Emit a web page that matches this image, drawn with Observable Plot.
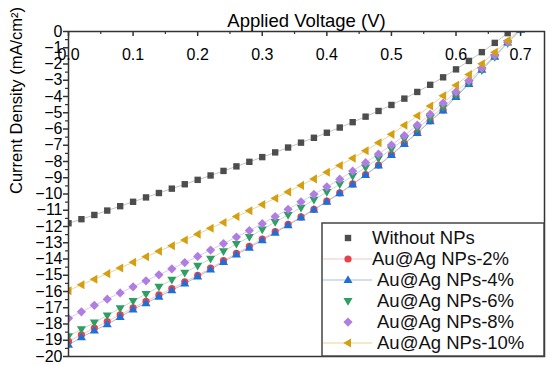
<!DOCTYPE html>
<html><head><meta charset="utf-8">
<script src="https://cdn.jsdelivr.net/npm/d3@7"></script>
<script src="https://cdn.jsdelivr.net/npm/@observablehq/plot@0.6"></script>
<style>
body{margin:0;background:#fff;font-family:"Liberation Sans",Arial,sans-serif;}
#wrap{position:relative;width:550px;height:365px;overflow:hidden;}
#legend{position:absolute;left:0;top:0;}
</style></head><body><div id="wrap"></div>
<script>
// ---- data ----
const voltage = [0.00,0.02,0.04,0.06,0.08,0.10,0.12,0.14,0.16,0.18,0.20,0.22,0.24,0.26,0.28,0.30,0.32,0.34,0.36,0.38,0.40,0.42,0.44,0.46,0.48,0.50,0.52,0.54,0.56,0.58,0.60,0.62,0.64,0.66,0.68,0.70];
const withoutNPs = [-11.80,-11.55,-11.29,-11.02,-10.75,-10.48,-10.21,-9.94,-9.67,-9.40,-9.13,-8.86,-8.58,-8.30,-8.02,-7.73,-7.44,-7.14,-6.84,-6.54,-6.23,-5.91,-5.58,-5.24,-4.89,-4.52,-4.13,-3.72,-3.28,-2.82,-2.33,-1.81,-1.27,-0.70,-0.10,0.50];
const np2 = [-19.07,-18.66,-18.25,-17.85,-17.43,-17.00,-16.60,-16.21,-15.82,-15.41,-15.00,-14.56,-14.10,-13.65,-13.22,-12.77,-12.32,-11.87,-11.41,-10.94,-10.44,-9.93,-9.38,-8.80,-8.22,-7.57,-6.89,-6.22,-5.50,-4.83,-4.00,-3.20,-2.33,-1.52,-0.66,0.10];
const np4 = [-19.28,-18.82,-18.40,-18.02,-17.57,-17.10,-16.72,-16.32,-15.93,-15.51,-15.08,-14.64,-14.18,-13.72,-13.30,-12.84,-12.38,-11.92,-11.45,-10.97,-10.47,-9.96,-9.41,-8.83,-8.25,-7.60,-6.92,-6.25,-5.53,-4.86,-4.03,-3.23,-2.36,-1.55,-0.68,0.10];
const np6 = [-18.75,-18.33,-17.91,-17.47,-17.03,-16.59,-16.15,-15.71,-15.28,-14.85,-14.42,-13.98,-13.52,-13.07,-12.65,-12.18,-11.73,-11.29,-10.84,-10.36,-9.88,-9.40,-8.89,-8.37,-7.82,-7.24,-6.62,-5.97,-5.32,-4.67,-3.93,-3.17,-2.38,-1.57,-0.72,0.10];
const np8 = [-17.65,-17.25,-16.85,-16.47,-16.09,-15.71,-15.34,-14.97,-14.60,-14.22,-13.84,-13.45,-13.05,-12.65,-12.25,-11.83,-11.39,-10.94,-10.48,-10.02,-9.56,-9.09,-8.59,-8.07,-7.54,-6.99,-6.40,-5.76,-5.09,-4.40,-3.71,-3.02,-2.26,-1.47,-0.66,0.15];
const np10 = [-15.95,-15.58,-15.24,-14.90,-14.55,-14.20,-13.86,-13.52,-13.18,-12.83,-12.47,-12.11,-11.75,-11.39,-11.03,-10.65,-10.26,-9.87,-9.47,-9.07,-8.66,-8.24,-7.80,-7.34,-6.85,-6.33,-5.77,-5.19,-4.58,-3.95,-3.31,-2.65,-1.98,-1.28,-0.56,0.20];
const seriesNames = ["Without NPs","Au@Ag NPs-2%","Au@Ag NPs-4%","Au@Ag NPs-6%","Au@Ag NPs-8%","Au@Ag NPs-10%"];
const xMajorTicks = [0,0.1,0.2,0.3,0.4,0.5,0.6,0.7];
const xMinorTicks = [0.05,0.15,0.25,0.35,0.45,0.55,0.65];
const yTicks = [0,-1,-2,-3,-4,-5,-6,-7,-8,-9,-10,-11,-12,-13,-14,-15,-16,-17,-18,-19,-20];
const yMinorTicks = [-0.5,-1.5,-2.5,-3.5,-4.5,-5.5,-6.5,-7.5,-8.5,-9.5,-10.5,-11.5,-12.5,-13.5,-14.5,-15.5,-16.5,-17.5,-18.5,-19.5];
const xTitle = "Applied Voltage (V)";
const yTitle = "Current Density (mA/cm²)";

// ---- symbols ----
const sym = f => ({draw(ctx, size){ const r = Math.sqrt(size/Math.PI); f(ctx, r); }});
const symSquare = sym((c,r)=>{c.moveTo(-r,-r);c.lineTo(r,-r);c.lineTo(r,r);c.lineTo(-r,r);c.closePath();});
const symCircle = sym((c,r)=>{c.moveTo(r,0);c.arc(0,0,r,0,2*Math.PI);c.closePath();});
const symUp = sym((c,r)=>{c.moveTo(0,-r*1.1);c.lineTo(r*1.05,r*0.7);c.lineTo(-r*1.05,r*0.7);c.closePath();});
const symDown = sym((c,r)=>{c.moveTo(0,r*1.1);c.lineTo(r*1.05,-r*0.7);c.lineTo(-r*1.05,-r*0.7);c.closePath();});
const symLeft = sym((c,r)=>{c.moveTo(-r*1.1,0);c.lineTo(r*0.7,-r*1.05);c.lineTo(r*0.7,r*1.05);c.closePath();});
const symDiamond = sym((c,r)=>{c.moveTo(0,-r*1.25);c.lineTo(r*1.25,0);c.lineTo(0,r*1.25);c.lineTo(-r*1.25,0);c.closePath();});

const seriesValues = [withoutNPs, np2, np4, np6, np8, np10];
const styles = [
  {fill:"#4d4d4d", line:"#c4c4c4", symbol:symSquare, r:3.2, legendLine:false},
  {fill:"#e8414a", line:"#e9c9cb", symbol:symCircle, r:3.6, legendLine:true},
  {fill:"#1f6fd8", line:"#a9bfd3", symbol:symUp, r:4.3, legendLine:true},
  {fill:"#2e9e62", line:"#c2dccb", symbol:symDown, r:4.3, legendLine:false},
  {fill:"#b07ee0", line:"#dccbee", symbol:symDiamond, r:3.7, legendLine:false},
  {fill:"#d4a012", line:"#e8d69a", symbol:symLeft, r:4.3, legendLine:true}
];

const tables = seriesValues.map(vals => voltage.map((v,i)=>({V:v, J:vals[i]})));

const marks = [];
tables.forEach((t,k)=>{
  marks.push(Plot.line(t, {x:"V", y:"J", stroke:styles[k].line, strokeWidth:1, clip:true}));
});
tables.forEach((t,k)=>{
  marks.push(Plot.dot(t, {x:"V", y:"J", symbol:styles[k].symbol, r:styles[k].r, fill:styles[k].fill, stroke:"none", clip:true}));
});

const chart = Plot.plot({
  width:550, height:365,
  marginTop:31, marginBottom:9, marginLeft:68, marginRight:6,
  style:{fontFamily:"'Liberation Sans', Arial, sans-serif", color:"#000", background:"#fff"},
  x:{domain:[0,0.737], axis:null, label:null},
  y:{domain:[-20,0], label:null},
  marks:[
    ...marks,
    Plot.frame({stroke:"#333", strokeWidth:1.5}),
    Plot.tickX(xMajorTicks, {x:d=>d, stroke:"#333", strokeWidth:1.5, insetBottom:320}),
    Plot.tickX(xMinorTicks, {x:d=>d, stroke:"#333", strokeWidth:1.2, insetBottom:322}),
    Plot.text(xMajorTicks, {x:d=>d, frameAnchor:"top", dy:17, text:d=>d.toFixed(1), fontSize:16, fill:"#000"}),
    Plot.axisY(yTicks, {anchor:"left", tickSize:5, tickPadding:1, fontSize:16, label:null, stroke:"#333", strokeWidth:1.5, fill:"#000"}),
    Plot.axisY(yMinorTicks, {anchor:"left", tickSize:3, tickFormat:()=>"", label:null, stroke:"#333", strokeWidth:1.2}),
    Plot.text([xTitle], {frameAnchor:"top", dy:-18, text:d=>d, fontSize:18.5, fill:"#000"}),
    Plot.text([yTitle], {frameAnchor:"left", dx:-52, rotate:-90, text:d=>d, fontSize:16.5, fill:"#000"})
  ]
});
const wrap = document.getElementById("wrap");
wrap.appendChild(chart);

// ---- legend (overlay) ----
const lg = d3.select(wrap).append("svg").attr("id","legend").attr("width",550).attr("height",365);
lg.append("rect").attr("x",322).attr("y",223).attr("width",222).attr("height",133)
  .attr("fill","#fff").attr("stroke","#444").attr("stroke-width",1.5);
const textX = [372,372,377,377,377,377];
seriesNames.forEach((name,i)=>{
  const cy = 238 + i*21;
  const s = styles[i];
  if (s.legendLine) lg.append("line").attr("x1",323).attr("x2",372).attr("y1",cy).attr("y2",cy).attr("stroke",s.line).attr("stroke-width",1.2);
  lg.append("path").attr("transform",`translate(348,${cy})`)
    .attr("d", d3.symbol().type(s.symbol).size(s.r*s.r*Math.PI)()).attr("fill",s.fill);
  lg.append("text").attr("x",textX[i]).attr("y",cy).attr("dy","0.35em")
    .attr("font-size",18.5).attr("font-family","'Liberation Sans', Arial, sans-serif").attr("fill","#111").text(name);
});
</script></body></html>
